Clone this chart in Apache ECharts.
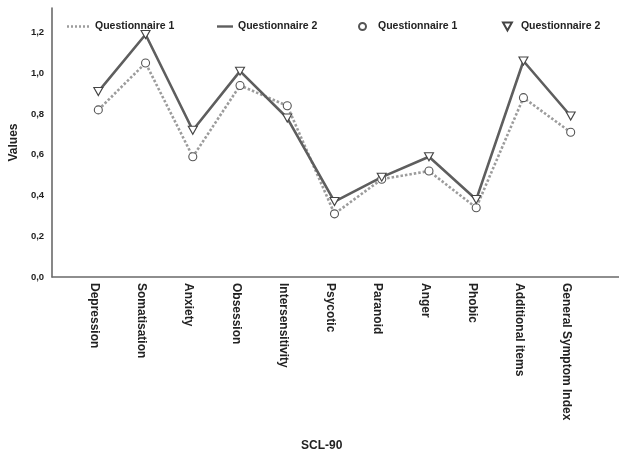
<!DOCTYPE html>
<html>
<head>
<meta charset="utf-8">
<script src="https://cdn.jsdelivr.net/npm/echarts@6/dist/echarts.min.js"></script>
<style>
  html, body { margin: 0; padding: 0; background: #fff; }
  #chart { width: 619px; height: 451px; }
</style>
</head>
<body>
<div id="chart"></div>
<script>
// SCL-90 subscale means for two questionnaire rounds
const categories = ['Depression', 'Somatisation', 'Anxiety', 'Obsession', 'Intersensitivity',
  'Psycotic', 'Paranoid', 'Anger', 'Phobic', 'Additional items', 'General Symptom Index'];
const questionnaire1 = [0.82, 1.05, 0.59, 0.94, 0.84, 0.31, 0.48, 0.52, 0.34, 0.88, 0.71];
const questionnaire2 = [0.91, 1.19, 0.72, 1.01, 0.78, 0.37, 0.49, 0.59, 0.38, 1.06, 0.79];
const yTicks = [0, 0.2, 0.4, 0.6, 0.8, 1.0, 1.2];

const sans = '"Liberation Sans", Arial, sans-serif';
const ink = '#222';
const axisCol = '#6a6a6a';
const lightCol = '#9c9c9c';
const darkCol = '#5e5e5e';
const Y_MAX = 1.32;

// legend glyphs: a dotted stroke, a solid stroke, an open down-pointing triangle
const dottedIcon = 'path://M0,0h2v2.4h-2z M4,0h2v2.4h-2z M8,0h2v2.4h-2z M12,0h2v2.4h-2z M16,0h2v2.4h-2z M20,0h2v2.4h-2z';
const solidIcon = 'path://M0,0h16v2.4h-16z';
const triIcon = 'path://M0,0 L10,0 L5,9 Z';

const chart = echarts.init(document.getElementById('chart'));

function legendAt(left, name, icon, w, h, gap) {
  return {
    data: [name], left: left, top: 21, padding: 0, itemWidth: w, itemHeight: h, icon: icon,
    textStyle: { fontFamily: sans, fontWeight: 'bold', fontSize: 10.5, color: ink, padding: [0, 0, 0, gap] }
  };
}

chart.setOption({
  animation: false,
  backgroundColor: '#fff',
  title: {
    text: 'SCL-90', left: 296, top: 435,
    textStyle: { fontFamily: sans, fontWeight: 'bold', fontSize: 12, color: ink }
  },
  legend: [
    legendAt(67, 'Questionnaire 1', dottedIcon, 22, 2.4, 1),
    legendAt(217, 'Questionnaire 2', solidIcon, 16, 2.4, 0),
    legendAt(358, 'Questionnaire 1 ', 'circle', 7, 7, 7),
    legendAt(502, 'Questionnaire 2 ', triIcon, 9, 8, 4)
  ],
  grid: [
    { left: 47, right: 0, top: 8, bottom: 174 },
    { left: 74.7, right: 24.7, top: 8, bottom: 174 }
  ],
  xAxis: [
    {
      gridIndex: 0, type: 'value', min: 0, max: 1,
      axisLine: { show: true, lineStyle: { color: axisCol, width: 1.6 } },
      axisTick: { show: false }, axisLabel: { show: false }, splitLine: { show: false }
    },
    {
      gridIndex: 1, type: 'category', data: categories, boundaryGap: true,
      axisLine: { show: false }, axisTick: { show: false }, splitLine: { show: false },
      axisLabel: {
        rotate: -90, interval: 0, margin: 6,
        verticalAlign: 'top', lineHeight: 8,
        fontFamily: sans, fontWeight: 'bold', fontSize: 12, color: ink
      }
    }
  ],
  yAxis: [
    {
      gridIndex: 0, type: 'value', min: 0, max: Y_MAX, interval: 0.2,
      axisLine: { show: true, lineStyle: { color: axisCol, width: 1.6 } },
      axisTick: { show: false }, splitLine: { show: false },
      axisLabel: {
        showMaxLabel: false, margin: 8,
        fontFamily: sans, fontWeight: 'bold', fontSize: 9.5, color: ink,
        formatter: v => {
          const t = yTicks.find(k => Math.abs(k - v) < 1e-6);
          return t === undefined ? '' : t.toFixed(1).replace('.', ',');
        }
      },
      name: 'Values', nameLocation: 'middle', nameGap: 29, nameRotate: 90,
      nameTextStyle: { fontFamily: sans, fontWeight: 'bold', fontSize: 12, color: ink }
    },
    {
      gridIndex: 1, type: 'value', min: 0, max: Y_MAX, show: false
    }
  ],
  series: [
    {
      name: 'Questionnaire 1', type: 'line', xAxisIndex: 1, yAxisIndex: 1,
      data: questionnaire1, symbol: 'none', z: 2,
      lineStyle: { color: lightCol, width: 2.6, type: [2.5, 2] },
      itemStyle: { color: lightCol }
    },
    {
      name: 'Questionnaire 2', type: 'line', xAxisIndex: 1, yAxisIndex: 1,
      data: questionnaire2, symbol: 'none', z: 3,
      lineStyle: { color: darkCol, width: 2.6 },
      itemStyle: { color: darkCol }
    },
    {
      name: 'Questionnaire 1 ', type: 'scatter', xAxisIndex: 1, yAxisIndex: 1,
      data: questionnaire1, symbol: 'circle', symbolSize: 8, z: 4,
      itemStyle: { color: '#fff', borderColor: '#555', borderWidth: 1.1, opacity: 1 }
    },
    {
      name: 'Questionnaire 2 ', type: 'scatter', xAxisIndex: 1, yAxisIndex: 1,
      data: questionnaire2, symbol: triIcon, symbolSize: [9, 8], z: 5,
      itemStyle: { color: '#fff', borderColor: '#444', borderWidth: 1.1, opacity: 1 }
    }
  ]
});
</script>
</body>
</html>
